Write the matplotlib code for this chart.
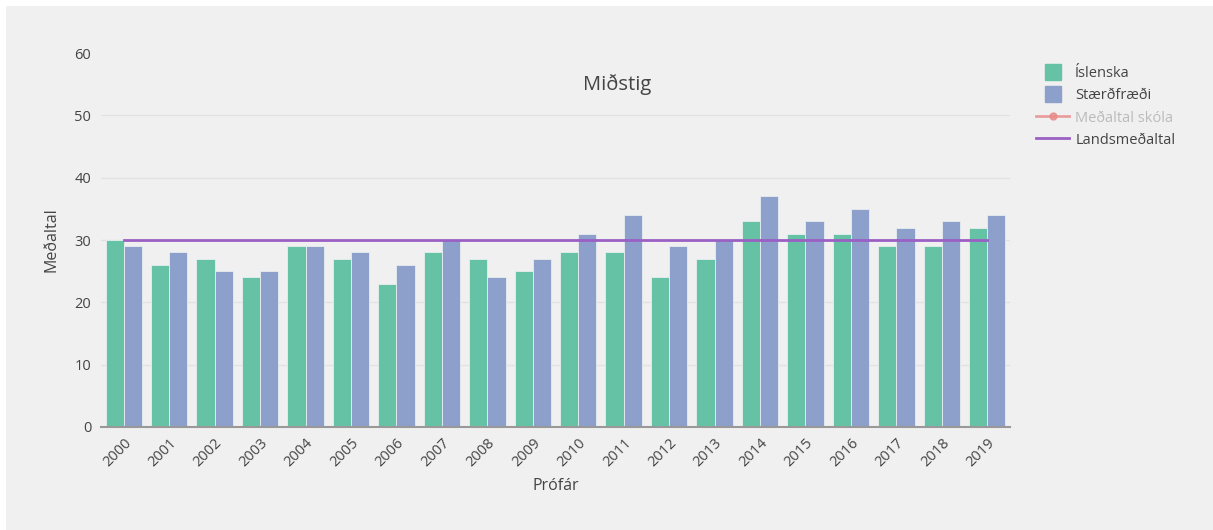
import matplotlib.pyplot as plt
import numpy as np
from matplotlib.lines import Line2D
from matplotlib.patches import Rectangle

plt.rcParams["font.family"] = ["Open Sans", "DejaVu Sans"]

years = [str(y) for y in range(2000, 2020)]
islenska = [30, 26, 27, 24, 29, 27, 23, 28, 27, 25, 28, 28, 24, 27, 33, 31, 31, 29, 29, 32]
staerdfraedi = [29, 28, 25, 25, 29, 28, 26, 30, 24, 27, 31, 34, 29, 30, 37, 33, 35, 32, 33, 34]
landsmedaltal = [30] * len(years)

BG = "#f0f0f0"
TXT = "#444444"
GREEN = "#66c2a5"
BLUE = "#8da0cb"
PURPLE = "#9a60c4"
PINK = "#e88a8a"

W, H = 1213, 530
fig = plt.figure(figsize=(W / 100, H / 100), dpi=100, facecolor="white")
fig.patches.append(Rectangle((6 / W, 0), 1 - 6 / W, 1 - 6 / H, transform=fig.transFigure,
                             facecolor=BG, edgecolor="none", zorder=-10))

ax = fig.add_axes([101 / W, 103 / H, (1010 - 101) / W, (427 - 53) / H])
ax.set_facecolor(BG)

x = np.arange(len(years))
bw = 0.4
ax.bar(x - bw / 2, islenska, bw, color=GREEN, edgecolor="#e6eef0", linewidth=0.6, zorder=2)
ax.bar(x + bw / 2, staerdfraedi, bw, color=BLUE, edgecolor="#e6eef0", linewidth=0.6, zorder=2)
ax.plot(x, landsmedaltal, color=PURPLE, linewidth=2, zorder=3)

ax.set_xlim(-0.5, len(years) - 0.5)
ax.set_ylim(0, 60)
ax.set_yticks(range(0, 61, 10))
ax.grid(axis="y", color="#e2e2e2", linewidth=1, zorder=0)
ax.set_axisbelow(True)
ax.get_ygridlines()[-1].set_visible(False)
for s in ["top", "right", "left"]:
    ax.spines[s].set_visible(False)
ax.spines["bottom"].set_color("#999999")
ax.spines["bottom"].set_linewidth(1.5)
ax.spines["bottom"].set_zorder(4)

ax.set_xticks(x)
ax.set_xticklabels(years, rotation=45, ha="right", rotation_mode="anchor")
ax.tick_params(axis="x", length=0, pad=6, labelsize=10.5, colors=TXT)
ax.tick_params(axis="y", length=0, pad=7, labelsize=10.5, colors=TXT)

ax.set_xlabel("Prófár", fontsize=11.5, color=TXT, labelpad=6)
ax.set_ylabel("Meðaltal", fontsize=11.5, color=TXT, labelpad=11)
fig.text(617 / W, 1 - 85 / H, "Miðstig", ha="center", va="center", fontsize=14.5, color=TXT)

handles = [
    Line2D([], [], color=GREEN, marker="s", markersize=11, linestyle="none"),
    Line2D([], [], color=BLUE, marker="s", markersize=11, linestyle="none"),
    Line2D([], [], color=PINK, marker="o", markersize=5, linewidth=2, alpha=0.8),
    Line2D([], [], color=PURPLE, linewidth=2),
]
labels = ["Íslenska", "Stærðfræði", "Meðaltal skóla", "Landsmeðaltal"]
leg = fig.legend(handles, labels, loc="upper left", bbox_to_anchor=(1030 / W, 1 - 60 / H),
                 frameon=False, fontsize=10.5, handlelength=2.3, handleheight=1.0,
                 labelspacing=0.45, handletextpad=0.4, borderaxespad=0)
for i, t in enumerate(leg.get_texts()):
    t.set_color("#bbbbbb" if i == 2 else TXT)

fig.savefig("out.png", dpi=100, facecolor=fig.get_facecolor())
